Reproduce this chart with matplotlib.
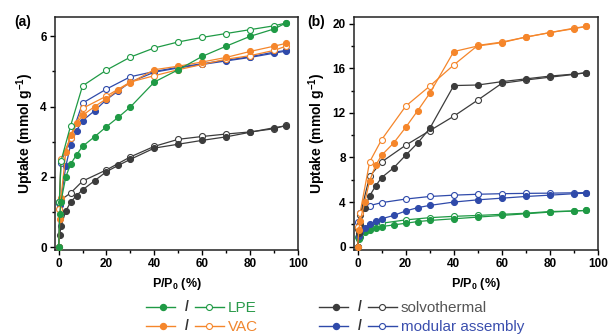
import matplotlib
matplotlib.use("Agg")
import matplotlib.pyplot as plt
from matplotlib.lines import Line2D
from matplotlib.ticker import MultipleLocator

plt.rcParams['font.family'] = ['Liberation Sans', 'DejaVu Sans']
plt.rcParams['mathtext.fontset'] = 'custom'
plt.rcParams['mathtext.rm'] = 'Liberation Sans:bold'
plt.rcParams['mathtext.bf'] = 'Liberation Sans:bold'

# ---------------- data ----------------
x_ads = [0, 0.5, 1, 3, 5, 7.5, 10, 15, 20, 25, 30, 40, 50, 60, 70, 80, 90, 95]
x_des = [95, 90, 80, 70, 60, 50, 40, 30, 20, 10, 5, 1, 0.3]

series_names = ["LPE", "VAC", "solvothermal", "modular assembly"]

# panel (a)
a_lpe_ads = [0, 0.95, 1.3, 2.0, 2.36, 2.63, 2.87, 3.14, 3.43, 3.7, 3.99, 4.7, 5.05, 5.43, 5.72, 6.0, 6.21, 6.38]
a_lpe_des = [6.38, 6.30, 6.19, 6.08, 5.97, 5.84, 5.67, 5.41, 5.04, 4.59, 3.45, 2.45, 1.3]
a_vac_ads = [0, 0.8, 1.4, 2.7, 3.2, 3.52, 3.75, 4.0, 4.22, 4.48, 4.68, 5.05, 5.15, 5.27, 5.4, 5.57, 5.72, 5.8]
a_vac_des = [5.72, 5.6, 5.45, 5.35, 5.2, 5.05, 4.88, 4.7, 4.3, 3.95, 3.1, 2.5, 1.1]
a_sol_ads = [0, 0.35, 0.6, 1.03, 1.28, 1.47, 1.63, 1.89, 2.15, 2.33, 2.5, 2.82, 2.93, 3.04, 3.14, 3.27, 3.4, 3.45]
a_sol_des = [3.47, 3.37, 3.28, 3.22, 3.15, 3.07, 2.87, 2.57, 2.2, 1.88, 1.54, 1.35, 1.3]
a_mod_ads = [0, 1.2, 1.35, 2.3, 2.9, 3.32, 3.6, 3.88, 4.2, 4.45, 4.7, 4.98, 5.1, 5.2, 5.3, 5.4, 5.52, 5.58]
a_mod_des = [5.6, 5.55, 5.42, 5.32, 5.22, 5.12, 5.0, 4.85, 4.5, 4.1, 3.1, 2.4, 1.25]

# panel (b)
b_lpe_ads = [0, 0.7, 0.9, 1.3, 1.5, 1.65, 1.8, 1.95, 2.1, 2.25, 2.35, 2.5, 2.65, 2.8, 2.95, 3.1, 3.2, 3.25]
b_lpe_des = [3.25, 3.2, 3.15, 3.0, 2.9, 2.8, 2.72, 2.6, 2.4, 2.1, 1.9, 1.4, 0.9]
b_vac_ads = [0, 1.5, 2.3, 4.0, 5.9, 7.3, 8.2, 9.3, 10.7, 12.2, 13.75, 17.5, 18.0, 18.3, 18.8, 19.2, 19.55, 19.75]
b_vac_des = [19.75, 19.6, 19.2, 18.8, 18.35, 18.05, 16.3, 14.4, 12.6, 9.6, 7.6, 3.0, 1.8]
b_sol_ads = [0, 1.2, 2.0, 3.5, 4.55, 5.45, 6.2, 7.07, 8.2, 9.3, 10.6, 14.45, 14.5, 14.8, 15.05, 15.3, 15.48, 15.6]
b_sol_des = [15.6, 15.45, 15.2, 14.95, 14.65, 13.15, 11.7, 10.4, 9.1, 7.6, 6.3, 2.8, 1.6]
b_mod_ads = [0, 1.0, 1.3, 1.7, 2.0, 2.3, 2.5, 2.8, 3.2, 3.5, 3.7, 4.0, 4.2, 4.35, 4.5, 4.62, 4.75, 4.8]
b_mod_des = [4.85, 4.83, 4.8, 4.78, 4.75, 4.7, 4.62, 4.5, 4.27, 3.95, 3.68, 3.0, 2.2]

a_yticks = [0, 2, 4, 6]
b_yticks = [0, 4, 8, 12, 16, 20]
x_ticks = [0, 20, 40, 60, 80, 100]

colors = {"LPE": "#1f9a45", "VAC": "#f5862b",
          "solvothermal": "#3c3c3c", "modular assembly": "#2f4aaa"}
text_colors = {"LPE": "#2a9a4a", "VAC": "#f0862e",
               "solvothermal": "#555555", "modular assembly": "#3b4fae"}

panel_a = {"solvothermal": (a_sol_ads, a_sol_des), "modular assembly": (a_mod_ads, a_mod_des),
           "VAC": (a_vac_ads, a_vac_des), "LPE": (a_lpe_ads, a_lpe_des)}
panel_b = {"LPE": (b_lpe_ads, b_lpe_des), "modular assembly": (b_mod_ads, b_mod_des),
           "solvothermal": (b_sol_ads, b_sol_des), "VAC": (b_vac_ads, b_vac_des)}

W, H = 611, 334
fig = plt.figure(figsize=(W / 100, H / 100), dpi=100)

def fx(px):
    return px / W

def fy(py):
    return 1 - py / H

ax_a = fig.add_axes([fx(55), fy(250), fx(298) - fx(55), fy(17) - fy(250)])
ax_b = fig.add_axes([fx(354), fy(250), fx(598) - fx(354), fy(17) - fy(250)])

ms = 4.3
for ax, data, ylim, yticks, ymin in [(ax_a, panel_a, (-0.08, 6.55), a_yticks, 1),
                                      (ax_b, panel_b, (-0.3, 20.6), b_yticks, 2)]:
    for name, (ads, des) in data.items():
        c = colors[name]
        ax.plot(x_des, des, '-o', color=c, lw=0.9, ms=ms, mfc='white', mec=c, mew=0.8, zorder=3)
        ax.plot(x_ads, ads, '-o', color=c, lw=0.9, ms=ms, mfc=c, mec=c, mew=0.8, zorder=3)
    ax.set_xlim(-1.5, 100)
    ax.set_ylim(*ylim)
    ax.set_xticks(x_ticks)
    ax.set_yticks(yticks)
    ax.xaxis.set_minor_locator(MultipleLocator(10))
    ax.yaxis.set_minor_locator(MultipleLocator(ymin))
    ax.tick_params(which='both', direction='out', top=False, right=False, labelsize=8.5, width=1.0)
    ax.tick_params(which='major', length=3.5, pad=2.5)
    ax.tick_params(which='minor', length=2)
    for lab in ax.get_xticklabels() + ax.get_yticklabels():
        lab.set_fontweight('bold')
    for s in ax.spines.values():
        s.set_linewidth(1.1)
        s.set_color('#222222')
    ax.set_ylabel(r"Uptake (mmol g$^{-1}$)", fontsize=10, fontweight='bold', labelpad=3)
    ax.set_xlabel(r"P/P$_\mathbf{0}$ (%)", fontsize=9, fontweight='bold', labelpad=4)

fig.text(fx(14), fy(22), "(a)", fontsize=10, fontweight='bold', ha='left', va='center')
fig.text(fx(307), fy(22), "(b)", fontsize=10, fontweight='bold', ha='left', va='center')

# ---------------- legend ----------------
legend_layout = [("LPE", 146, 307), ("VAC", 146, 326),
                 ("solvothermal", 319, 307), ("modular assembly", 319, 326)]
for name, x0, y0 in legend_layout:
    c = colors[name]
    fig.add_artist(Line2D([fx(x0), fx(x0 + 29)], [fy(y0), fy(y0)], color=c, lw=1.0,
                          transform=fig.transFigure))
    fig.add_artist(Line2D([fx(x0 + 17)], [fy(y0)], color=c, marker='o', ms=ms, mfc=c, mec=c,
                          transform=fig.transFigure))
    fig.text(fx(x0 + 41), fy(y0), "/", fontsize=10, fontweight='bold', ha='center', va='center', color='#333333')
    fig.add_artist(Line2D([fx(x0 + 49), fx(x0 + 78)], [fy(y0), fy(y0)], color=c, lw=1.0,
                          transform=fig.transFigure))
    fig.add_artist(Line2D([fx(x0 + 63)], [fy(y0)], color=c, marker='o', ms=ms, mfc='white', mec=c,
                          mew=0.8, transform=fig.transFigure))
    fig.text(fx(x0 + 82), fy(y0 + 1), name, fontsize=11, ha='left', va='center', color=text_colors[name])

fig.savefig("out.png", dpi=100)
